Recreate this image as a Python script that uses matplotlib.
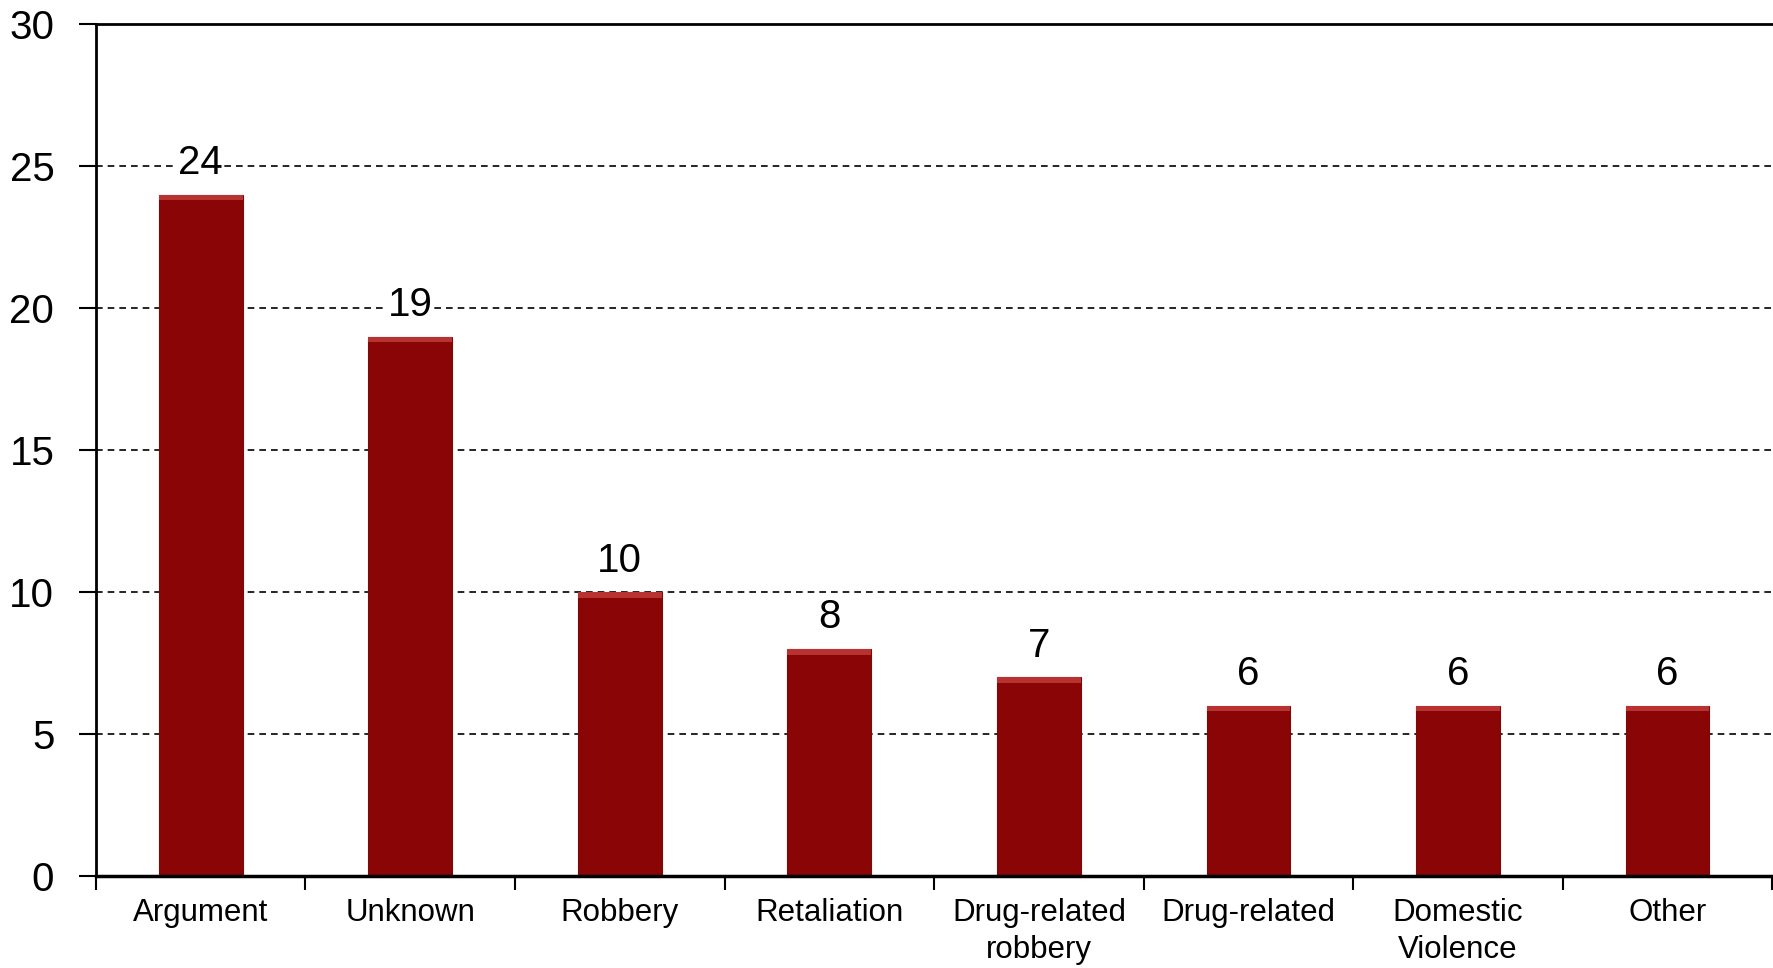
import matplotlib.pyplot as plt
import numpy as np

plt.rcParams['font.family'] = ['Liberation Sans', 'DejaVu Sans']

categories = ['Argument', 'Unknown', 'Robbery', 'Retaliation', 'Drug-related\nrobbery',
              'Drug-related', 'Domestic\nViolence', 'Other']
counts = [24, 19, 10, 8, 7, 6, 6, 6]
y_ticks = [0, 5, 10, 15, 20, 25, 30]

bar_color = '#8a0505'

fig = plt.figure(figsize=(17.73, 9.68), dpi=100)
ax = fig.add_axes([0.0541, 0.095, 0.9455, 0.88])

x = np.arange(len(categories)) + 0.5
ax.bar(x, counts, width=0.4, color=bar_color, edgecolor='#7a0a0a', linewidth=0.8, zorder=3)
# light bevel along the top of each bar
ax.bar(x, [0.2] * len(counts), bottom=[c - 0.2 for c in counts], width=0.4,
       color='#b83232', linewidth=0, zorder=4)

for xi, c in zip(x, counts):
    ax.annotate(str(c), (xi, c), xytext=(0, 9), textcoords='offset points',
                ha='center', va='bottom', fontsize=29, zorder=5,
                bbox=dict(facecolor='white', edgecolor='none', pad=1))

ax.set_xlim(0, len(categories))
ax.set_ylim(0, 30)
ax.set_yticks(y_ticks)
ax.set_yticklabels([str(t) for t in y_ticks], fontsize=29)
ax.set_xticks(np.arange(len(categories) + 1))
ax.set_xticklabels([])
ax.set_xticks(x, minor=True)
ax.set_xticklabels(categories, minor=True, fontsize=22.5, linespacing=1.3)
ax.tick_params(axis='x', which='minor', length=0, pad=16)
ax.tick_params(axis='x', which='major', length=10, width=1.5, direction='out')
ax.tick_params(axis='y', length=12, width=1.5, direction='out', pad=18)

for y in y_ticks[1:-1]:
    ax.axhline(y, color='black', linestyle=(0, (4, 3)), linewidth=1.2, zorder=1)

ax.spines['right'].set_visible(False)
ax.spines['top'].set_linewidth(2)
ax.spines['left'].set_linewidth(2)
ax.spines['bottom'].set_linewidth(2.5)
ax.spines['bottom'].set_zorder(6)

fig.savefig('out.png', dpi=100)
